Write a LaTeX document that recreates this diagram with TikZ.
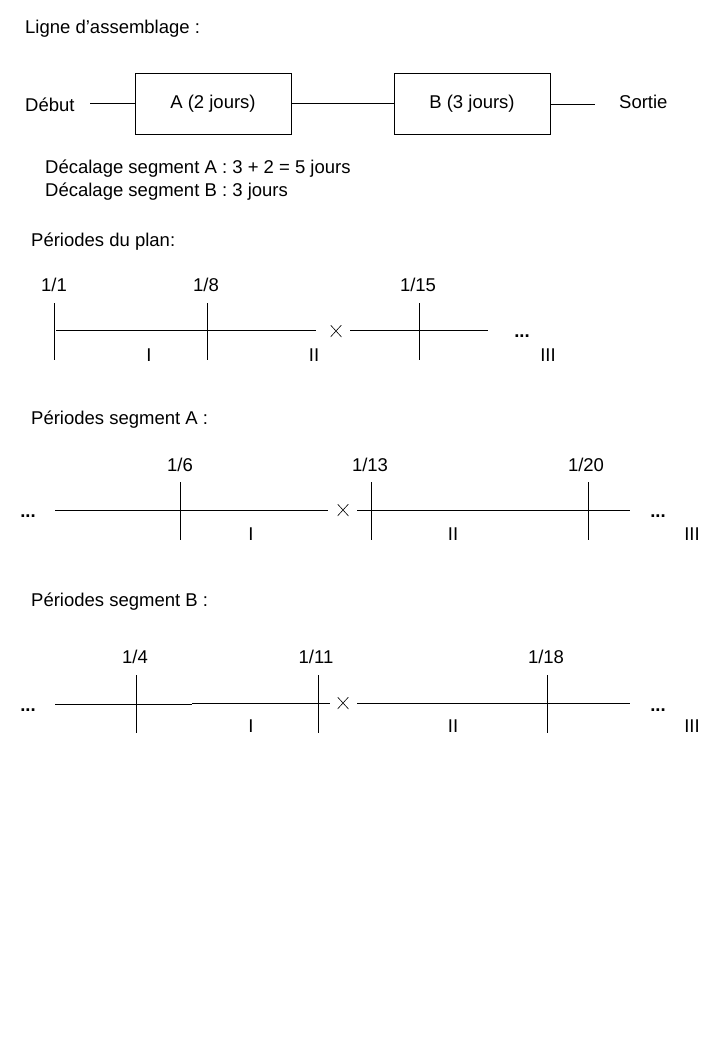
\documentclass[tikz,border=0pt]{standalone}
\usepackage{fontspec}
\setmainfont{Liberation Sans}
\begin{document}
\begin{tikzpicture}[x=1pt,y=-1pt,
  every node/.style={inner sep=0pt,font=\fontsize{18.5}{22}\selectfont},
  lbl/.style={anchor=base},
  lblw/.style={anchor=base west},
  box/.style={draw,line width=0.9pt,minimum width=156pt,minimum height=61pt},
  ln/.style={line width=0.9pt},
  xmark/.style={minimum width=11pt,minimum height=12pt,
    path picture={\draw[line width=0.6pt]
      (path picture bounding box.north west) -- (path picture bounding box.south east)
      (path picture bounding box.south west) -- (path picture bounding box.north east);}},
  dots/.style={anchor=base,font=\fontsize{18.5}{22}\selectfont\bfseries}]
\useasboundingbox (0,0) rectangle (720,1040);
% assembly line
\node[lblw] (title) at (25,34) {Ligne d’assemblage :};
\node[box] (A) at (213,103.5) {A (2 jours)};
\node[box] (B) at (472,103.5) {B (3 jours)};
\node[lblw] (deb) at (25,112) {Début};
\node[lblw] (sor) at (619,109) {Sortie};
\coordinate (d1) at (90,103);
\coordinate (s1) at (595,104);
\draw[ln] (d1) -- (d1 -| A.west);
\draw[ln] (A.east |- 0,103) -- (B.west |- 0,103);
\draw[ln] (B.east |- s1) -- (s1);
\node[lblw] (decA) at (45,174) {Décalage segment A : 3 + 2 = 5 jours};
\node[lblw] (decB) at (45,197) {Décalage segment B : 3 jours};
% plan periods
\node[lblw] (pp) at (31,247) {Périodes du plan:};
\coordinate (p0a) at (54,303); \coordinate (p0b) at (54,360);
\coordinate (p1a) at (207,303); \coordinate (p1b) at (207,360);
\coordinate (p2a) at (419,303); \coordinate (p2b) at (419,360);
\coordinate (pl0) at (56,330); \coordinate (pl1) at (316,330);
\coordinate (pl2) at (350,330); \coordinate (pl3) at (488,330);
\draw[ln] (p0a) -- (p0b);
\draw[ln] (p1a) -- (p1b);
\draw[ln] (p2a) -- (p2b);
\draw[ln] (pl0) -- (pl1);
\draw[ln] (pl2) -- (pl3);
\node[xmark] (px) at (336,331) {};
\node[lbl] (pd1) at (54,291) {1/1};
\node[lbl] (pd2) at (206,291) {1/8};
\node[lbl] (pd3) at (418,291) {1/15};
\node[lbl] (pI) at (149,361) {I};
\node[lbl] (pII) at (314,361) {II};
\node[dots] (pdots) at (522,337) {...};
\node[lbl] (pIII) at (548,361) {III};
% segment A
\node[lblw] (sa) at (31,424) {Périodes segment A :};
\coordinate (a1a) at (180,482); \coordinate (a1b) at (180,540);
\coordinate (a2a) at (371,482); \coordinate (a2b) at (371,540);
\coordinate (a3a) at (588,482); \coordinate (a3b) at (588,540);
\coordinate (al0) at (55,510); \coordinate (al1) at (328,510);
\coordinate (al2) at (357,510); \coordinate (al3) at (630,510);
\draw[ln] (a1a) -- (a1b);
\draw[ln] (a2a) -- (a2b);
\draw[ln] (a3a) -- (a3b);
\draw[ln] (al0) -- (al1);
\draw[ln] (al2) -- (al3);
\node[xmark] (ax) at (343,510) {};
\node[dots] (adots0) at (28,517) {...};
\node[lbl] (ad1) at (180,471) {1/6};
\node[lbl] (ad2) at (370,471) {1/13};
\node[lbl] (ad3) at (586,471) {1/20};
\node[lbl] (aI) at (251,540) {I};
\node[lbl] (aII) at (453,540) {II};
\node[dots] (adots1) at (658,517) {...};
\node[lbl] (aIII) at (692,540) {III};
% segment B
\node[lblw] (sb) at (31,606) {Périodes segment B :};
\coordinate (b1a) at (136,675); \coordinate (b1b) at (136,733);
\coordinate (b2a) at (318,675); \coordinate (b2b) at (318,733);
\coordinate (b3a) at (547,675); \coordinate (b3b) at (547,733);
\coordinate (bl0) at (55,704.5); \coordinate (bl1) at (192,704.5);
\coordinate (bl1b) at (192,703); \coordinate (bl2) at (330,703);
\coordinate (bl3) at (357,703); \coordinate (bl4) at (630,703);
\draw[ln] (b1a) -- (b1b);
\draw[ln] (b2a) -- (b2b);
\draw[ln] (b3a) -- (b3b);
\draw[ln] (bl0) -- (bl1);
\draw[ln] (bl1b) -- (bl2);
\draw[ln] (bl3) -- (bl4);
\node[xmark] (bx) at (343,703) {};
\node[dots] (bdots0) at (28,711) {...};
\node[lbl] (bd1) at (135,663) {1/4};
\node[lbl] (bd2) at (316,663) {1/11};
\node[lbl] (bd3) at (546,663) {1/18};
\node[lbl] (bI) at (251,732) {I};
\node[lbl] (bII) at (453,732) {II};
\node[dots] (bdots1) at (658,711) {...};
\node[lbl] (bIII) at (692,732) {III};
\end{tikzpicture}
\end{document}
